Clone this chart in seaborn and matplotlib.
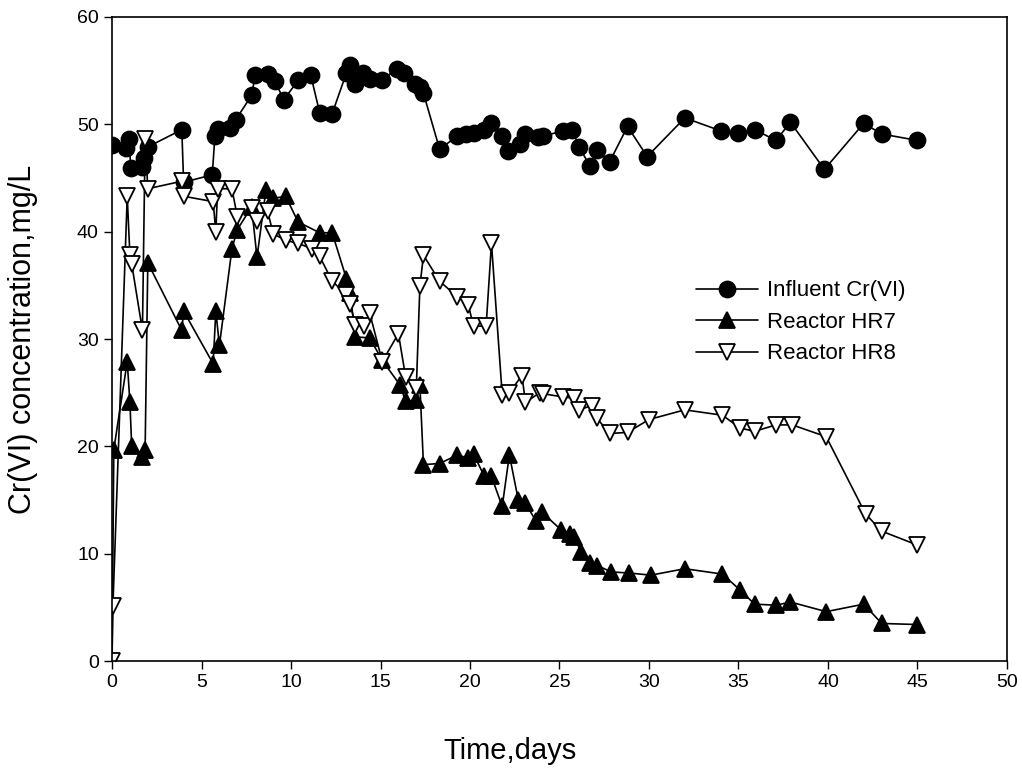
import numpy as np
import pandas as pd
import matplotlib
matplotlib.use("Agg")
import matplotlib.pyplot as plt
import seaborn as sns

# Influent Cr(VI)
inf_t = [0, 0.8, 0.95, 1.05, 1.7, 1.8, 2.0, 3.9, 4.0, 5.6, 5.75, 5.9, 6.6, 6.9,
         7.8, 8.0, 8.7, 9.1, 9.6, 10.4, 11.1, 11.6, 12.3, 13.1, 13.3, 13.6, 14.0,
         14.4, 15.1, 15.9, 16.3, 16.9, 17.2, 17.4, 18.3, 19.3, 19.8, 20.2, 20.8,
         21.2, 21.8, 22.1, 22.8, 23.1, 23.8, 24.1, 25.2, 25.7, 26.1, 26.7, 27.1,
         27.8, 28.8, 29.9, 32.0, 34.0, 35.0, 35.9, 37.1, 37.9, 39.8, 42.0, 43.0, 45.0]
inf_c = [48.1, 47.8, 48.6, 45.9, 46.0, 46.9, 47.9, 49.5, 44.6, 45.3, 48.9, 49.6, 49.7, 50.4,
         52.7, 54.6, 54.7, 54.0, 52.3, 54.1, 54.6, 51.1, 51.0, 54.8, 55.5, 53.8, 54.8,
         54.2, 54.1, 55.2, 54.8, 53.8, 53.5, 52.9, 47.7, 48.9, 49.1, 49.2, 49.5,
         50.1, 48.9, 47.5, 48.2, 49.1, 48.8, 48.9, 49.4, 49.5, 47.9, 46.1, 47.6,
         46.5, 49.8, 47.0, 50.6, 49.4, 49.2, 49.5, 48.5, 50.2, 45.8, 50.1, 49.1, 48.5]

# Reactor HR7
hr7_t = [0, 0.1, 0.85, 1.0, 1.1, 1.7, 1.85, 2.0, 3.9, 4.0, 5.65, 5.8, 6.0, 6.7,
         7.0, 7.8, 8.1, 8.6, 9.0, 9.7, 10.4, 11.6, 12.3, 13.1, 13.3, 13.6, 14.4,
         15.1, 16.1, 16.4, 17.0, 17.2, 17.4, 18.3, 19.3, 19.9, 20.2, 20.8, 21.2,
         21.8, 22.2, 22.7, 23.1, 23.7, 24.0, 25.1, 25.6, 25.8, 26.2, 26.7, 27.1,
         27.9, 28.9, 30.1, 32.0, 34.1, 35.1, 35.9, 37.1, 37.9, 39.9, 42.0, 43.0, 45.0]
hr7_c = [0, 19.7, 27.9, 24.1, 20.0, 19.0, 19.7, 37.1, 30.8, 32.6, 27.7, 32.6, 29.4, 38.4,
         40.2, 42.3, 37.6, 43.9, 43.1, 43.3, 40.9, 39.9, 39.9, 35.6, 34.3, 30.2, 30.1,
         28.0, 25.7, 24.2, 24.3, 25.7, 18.3, 18.4, 19.2, 18.9, 19.3, 17.2, 17.2,
         14.4, 19.2, 15.0, 14.7, 13.0, 13.9, 12.2, 11.8, 11.6, 10.2, 9.1, 8.9,
         8.3, 8.2, 8.0, 8.6, 8.1, 6.6, 5.3, 5.2, 5.5, 4.6, 5.3, 3.5, 3.4]

# Reactor HR8
hr8_t = [0, 0.05, 0.85, 1.0, 1.1, 1.7, 1.85, 2.0, 3.9, 4.0, 5.65, 5.8, 5.9, 6.7,
         7.0, 7.8, 8.1, 8.7, 9.0, 9.7, 10.4, 11.2, 11.6, 12.3, 13.1, 13.3, 13.6,
         14.1, 14.4, 15.1, 16.0, 16.4, 17.0, 17.2, 17.4, 18.3, 19.3, 19.9, 20.2,
         20.9, 21.2, 21.8, 22.2, 22.9, 23.1, 23.9, 24.1, 25.2, 25.8, 26.1, 26.8,
         27.1, 27.8, 28.8, 30.0, 32.0, 34.1, 35.1, 35.9, 37.1, 38.0, 39.9, 42.1, 43.0, 45.0]
hr8_c = [0, 5.1, 43.3, 37.8, 37.0, 30.8, 48.6, 44.0, 44.7, 43.3, 42.8, 40.0, 44.0, 44.0,
         41.4, 42.2, 41.0, 41.9, 39.8, 39.2, 38.9, 38.4, 37.7, 35.4, 34.1, 33.3, 31.3,
         31.2, 32.4, 27.9, 30.5, 26.5, 25.4, 34.9, 37.8, 35.4, 33.9, 33.2, 31.2,
         31.2, 38.9, 24.8, 25.0, 26.6, 24.1, 25.0, 24.9, 24.6, 24.5, 23.4, 23.8,
         22.6, 21.2, 21.3, 22.5, 23.4, 22.9, 21.7, 21.4, 22.0, 22.0, 20.9, 13.7, 12.1, 10.8]

sns.set_style("ticks")
plt.rcParams["font.family"] = ["Liberation Sans", "DejaVu Sans"]
plt.rcParams["text.color"] = "black"
plt.rcParams["axes.labelcolor"] = "black"

fig = plt.figure(figsize=(10.22, 7.69), dpi=100)
ax = fig.add_axes([0.1096, 0.1404, 0.8757, 0.8375])

common = dict(color="black", linewidth=1.2, markersize=11.5, sort=False,
              estimator=None, ax=ax, markeredgewidth=1.3)
sns.lineplot(x=inf_t, y=inf_c, marker="o", markerfacecolor="black",
             markeredgecolor="black", label="Influent Cr(VI)", **common)
sns.lineplot(x=hr7_t, y=hr7_c, marker="^", markerfacecolor="black",
             markeredgecolor="black", label="Reactor HR7", **common)
sns.lineplot(x=hr8_t, y=hr8_c, marker="v", markerfacecolor="white",
             markeredgecolor="black", label="Reactor HR8", **common)

ax.set_xlim(0, 50)
ax.set_ylim(0, 60)
ax.set_xticks(np.arange(0, 51, 5))
ax.set_yticks(np.arange(0, 61, 10))
ax.tick_params(direction="out", length=6, width=1, labelsize=14, colors="black")
for s in ax.spines.values():
    s.set_linewidth(1.2)
    s.set_color("black")

ax.set_xlabel("Time,days", fontsize=21, va="center")
ax.xaxis.set_label_coords(0.445, -0.14)
ax.set_ylabel("Cr(VI) concentration,mg/L", fontsize=22, va="center")
ax.yaxis.set_label_coords(-0.099, 0.5)

ax.legend(loc="upper left", bbox_to_anchor=(0.63, 0.622), frameon=False,
          fontsize=16, handlelength=2.8, labelspacing=0.47, handletextpad=0.4)

fig.savefig("out.png", dpi=100)
